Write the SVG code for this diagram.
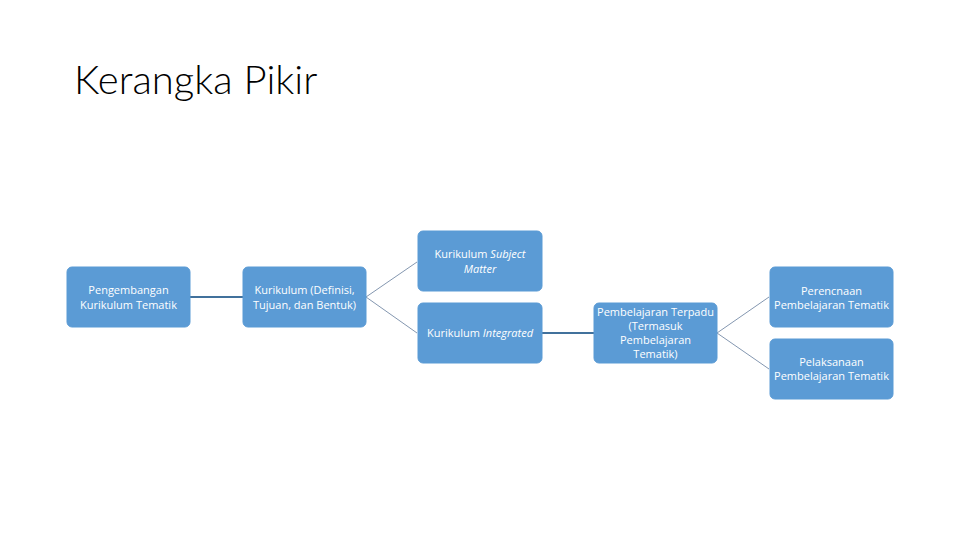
<svg xmlns="http://www.w3.org/2000/svg" width="960" height="540" viewBox="0 0 960 540">
<style>
.box{fill:#5B9BD5;stroke:#5B9BD5;stroke-width:1}
.t{font-family:"Open Sans","Liberation Sans",sans-serif;font-size:11px;fill:#ffffff;text-anchor:middle}
.thick{stroke:#41719C;stroke-width:2;fill:none}
.thin{stroke:#8497B0;stroke-width:1;fill:none}
.title{font-family:Lato,"Open Sans",sans-serif;font-weight:300;font-size:40px;fill:#000000}
</style>
<rect width="960" height="540" fill="#ffffff"/>
<text class="title" x="74" y="94">Kerangka Pikir</text>
<g id="connectors">
<line class="thick" x1="190" y1="297" x2="243" y2="297"/>
<line class="thin" x1="366" y1="297" x2="417" y2="262"/>
<line class="thin" x1="366" y1="297" x2="417" y2="333"/>
<line class="thick" x1="542" y1="333" x2="594" y2="333"/>
<line class="thin" x1="717" y1="333" x2="769" y2="297"/>
<line class="thin" x1="717" y1="333" x2="769" y2="369"/>
</g>
<g id="n1">
<rect class="box" x="67" y="267" width="123" height="60" rx="5"/>
<text class="t" x="128.5" y="294">Pengembangan</text>
<text class="t" x="128.5" y="308.5">Kurikulum Tematik</text>
</g>
<g id="n2">
<rect class="box" x="243" y="267" width="123" height="60" rx="5"/>
<text class="t" x="304.5" y="294">Kurikulum (Definisi,</text>
<text class="t" x="304.5" y="308.5">Tujuan, dan Bentuk)</text>
</g>
<g id="n3">
<rect class="box" x="418" y="231" width="124" height="60" rx="5"/>
<text class="t" x="480" y="258">Kurikulum <tspan font-style="italic">Subject</tspan></text>
<text class="t" x="480" y="272.5" font-style="italic">Matter</text>
</g>
<g id="n4">
<rect class="box" x="418" y="303" width="124" height="60" rx="5"/>
<text class="t" x="480" y="337">Kurikulum <tspan font-style="italic">Integrated</tspan></text>
</g>
<g id="n5">
<rect class="box" x="594" y="303" width="123" height="60" rx="5"/>
<text class="t" x="655.5" y="316">Pembelajaran Terpadu</text>
<text class="t" x="655.5" y="330">(Termasuk</text>
<text class="t" x="655.5" y="344">Pembelajaran</text>
<text class="t" x="655.5" y="358">Tematik)</text>
</g>
<g id="n6">
<rect class="box" x="770" y="267" width="123" height="60" rx="5"/>
<text class="t" x="831.5" y="294.5">Perencnaan</text>
<text class="t" x="831.5" y="309">Pembelajaran Tematik</text>
</g>
<g id="n7">
<rect class="box" x="770" y="339" width="123" height="60" rx="5"/>
<text class="t" x="831.5" y="365.5">Pelaksanaan</text>
<text class="t" x="831.5" y="380">Pembelajaran Tematik</text>
</g>
</svg>
